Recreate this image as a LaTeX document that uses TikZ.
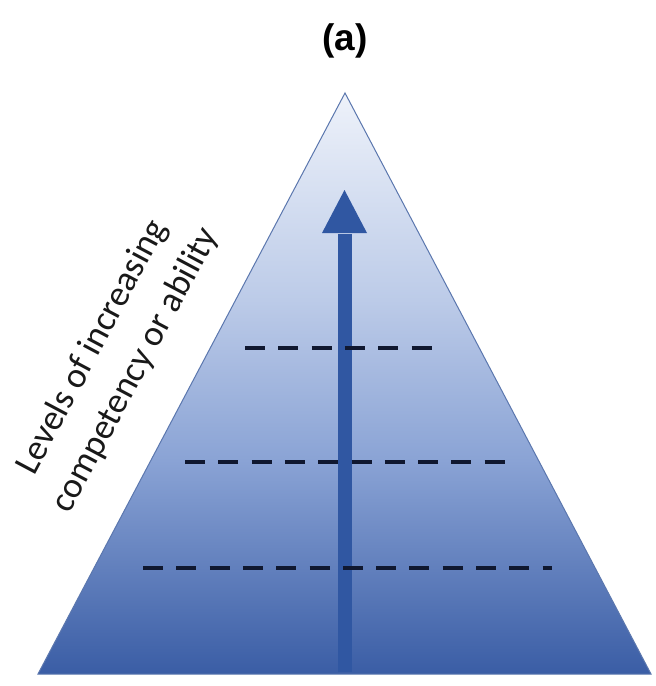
\documentclass[tikz,border=0pt]{standalone}
\usepackage{fontspec}
\setmainfont{Carlito}
\newfontfamily\titlefont{Liberation Sans}
\usetikzlibrary{arrows.meta}
\definecolor{pyrtop}{HTML}{EEF2FA}
\definecolor{pyrmidA}{HTML}{BCCBE8}
\definecolor{pyrmidB}{HTML}{8AA3D5}
\definecolor{pyrbot}{HTML}{3A5DA5}
\definecolor{arrowblue}{HTML}{3057A2}
\definecolor{edgeblue}{HTML}{5B77AE}
\definecolor{dashnavy}{HTML}{101830}
\pgfdeclareverticalshading{pyrshade}{100bp}{color(0bp)=(pyrbot); color(25bp)=(pyrbot); color(43.4bp)=(pyrmidB); color(57.2bp)=(pyrmidA); color(75bp)=(pyrtop); color(100bp)=(pyrtop)}
\begin{document}
\begin{tikzpicture}[x=1pt,y=-1pt,
  levelline/.style={line width=3.5pt, dash pattern=on 20pt off 13.3pt, draw=dashnavy},
  shaftline/.style={line width=14pt, draw=arrowblue}]
\fill[white] (0,0) rectangle (656,686);
\useasboundingbox (0,0) rectangle (656,686);
% pyramid
\coordinate (apex) at (345,93);
\coordinate (bl) at (38,674);
\coordinate (br) at (651,674);
\shadedraw[shading=pyrshade, draw=edgeblue, line width=1pt] (apex) -- (br) -- (bl) -- cycle;
% arrow
\coordinate (abot) at (344.5,672);
\coordinate (ahead) at (344.5,233);
\coordinate (atip) at (344.5,190);
\draw[shaftline] (abot) -- ([yshift=-1pt]ahead);
\fill[arrowblue] (atip) -- ([xshift=22.5pt]ahead) -- ([xshift=-22.5pt]ahead) -- cycle;
% dashed levels
\coordinate (l1a) at (245,348); \coordinate (l1b) at (433,348);
\coordinate (l2a) at (185,462); \coordinate (l2b) at (507,462);
\coordinate (l3a) at (143,568); \coordinate (l3b) at (552,568);
\draw[levelline] (l1a) -- (l1b);
\draw[levelline] (l2a) -- (l2b);
\draw[levelline] (l3a) -- (l3b);
% texts
\node[rotate=62, align=center, font=\fontsize{36}{49}\selectfont, inner sep=0, text=black!90] (label) at (114,359) {Levels of increasing\\competency or ability};
\node[font=\titlefont\bfseries\fontsize{37}{40}\selectfont, inner sep=0] (title) at (345,40.5) {(a)};
\end{tikzpicture}
\end{document}
